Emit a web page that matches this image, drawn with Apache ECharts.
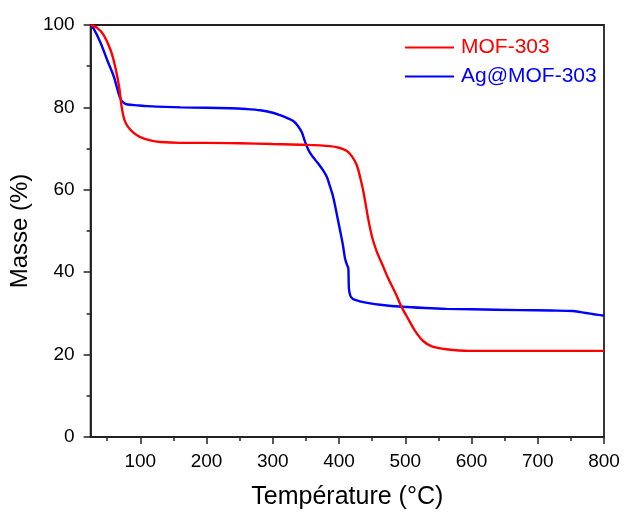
<!DOCTYPE html>
<html>
<head>
<meta charset="utf-8">
<script src="https://cdn.jsdelivr.net/npm/echarts@6/dist/echarts.min.js"></script>
<style>html,body{margin:0;padding:0;background:#fff}#c{width:625px;height:515px}</style>
</head>
<body>
<div id="c"></div>
<script>
const seriesNames = ['MOF-303', 'Ag@MOF-303'];
const mofT = [25,35,45,55,62,68,72,76,81,90,100,115,130,160,200,250,300,350,386,400,412,420,427,432,437,444,450,457,465,474,485,494,505,515,527,540,562,597,650,700,750,800];
const mofM = [100,99.3,97.5,94,90,85,80,77,75.4,73.8,72.8,72,71.6,71.4,71.4,71.3,71.1,70.9,70.6,70.2,69.4,68,65.9,63,59.4,53,48.5,45,42,38.6,35,31.7,28.5,25.7,23.3,22,21.3,20.9,20.9,20.9,20.9,20.9];
const agT = [25,30,40,50,60,67,71,76,81,95,111,161,236,260,281,300,311,322,331,338,344,348,351,356,361,368,376,382,386,390,394,398,402,406,409,412,414,414.5,415,417,421,430,445,462,496,530,562,600,673,720,753,765,773,785,798,800];
const agM = [100,99,95.7,91.5,87.5,83.5,81.8,81,80.7,80.5,80.3,80,79.8,79.6,79.3,78.7,78.1,77.4,76.7,75.5,73.9,72,70.7,69,67.9,66.5,64.7,63,61,59,56.2,53,49.8,46.5,43.4,41.8,41,38.6,36,34.3,33.5,33,32.5,32.1,31.6,31.3,31.1,31,30.8,30.7,30.6,30.3,30.1,29.8,29.5,29.5];
const xMajorTicks = [100,200,300,400,500,600,700,800];
const xMinorTicks = [50,150,250,350,450,550,650,750];
const xMin = 25, xMax = 800;

const font = 'Liberation Sans, Arial, sans-serif';
const axisColor = '#222';
const zip = (a, b) => a.map((v, i) => [v, b[i]]);

const chart = echarts.init(document.getElementById('c'));
chart.setOption({
  animation: false,
  backgroundColor: '#fff',
  grid: { left: 90, right: 21, top: 25, bottom: 75, show: true, borderColor: axisColor, borderWidth: 1.8, backgroundColor: 'transparent' },
  legend: {
    orient: 'vertical', left: 400, top: 31, itemGap: 6,
    icon: 'rect', itemWidth: 49, itemHeight: 2,
    textStyle: { fontFamily: font, fontSize: 21, lineHeight: 23, padding: [0, 0, 0, 2] },
    data: [
      { name: seriesNames[0], textStyle: { color: '#ff0000' } },
      { name: seriesNames[1], textStyle: { color: '#0000ff' } }
    ]
  },
  xAxis: [{
    type: 'value', min: xMin, max: xMax,
    name: 'Température (°C)', nameLocation: 'middle', nameGap: 48,
    nameTextStyle: { fontFamily: font, fontSize: 25, color: '#000' },
    axisLine: { show: true, onZero: false, lineStyle: { color: axisColor, width: 1.8 } },
    axisTick: { show: true, length: 7, customValues: xMajorTicks, lineStyle: { color: axisColor, width: 1.5 } },
    axisLabel: { customValues: xMajorTicks, fontFamily: font, fontSize: 19, color: '#000', margin: 15 },
    splitLine: { show: false }
  }, {
    type: 'value', min: xMin, max: xMax, position: 'bottom',
    axisLine: { show: false },
    axisTick: { show: true, length: 4, customValues: xMinorTicks, lineStyle: { color: axisColor, width: 1.5 } },
    axisLabel: { show: false },
    splitLine: { show: false }
  }],
  yAxis: {
    type: 'value', min: 0, max: 100, interval: 20,
    name: 'Masse (%)', nameLocation: 'middle', nameGap: 54,
    nameTextStyle: { fontFamily: font, fontSize: 24, color: '#000' },
    axisLine: { show: true, lineStyle: { color: axisColor, width: 1.8 } },
    axisTick: { show: true, length: 7, lineStyle: { color: axisColor, width: 1.5 } },
    minorTick: { show: true, splitNumber: 2, length: 4, lineStyle: { color: axisColor, width: 1.5 } },
    axisLabel: { fontFamily: font, fontSize: 19, color: '#000', margin: 16 },
    splitLine: { show: false }
  },
  series: [
    { name: seriesNames[0], type: 'line', data: zip(mofT, mofM), showSymbol: false, smooth: 0.3, lineStyle: { color: '#ff0000', width: 2.4 }, itemStyle: { color: '#ff0000' }, z: 3 },
    { name: seriesNames[1], type: 'line', data: zip(agT, agM), showSymbol: false, smooth: 0.3, lineStyle: { color: '#0000ff', width: 2.4 }, itemStyle: { color: '#0000ff' }, z: 2 }
  ]
});
</script>
</body>
</html>
